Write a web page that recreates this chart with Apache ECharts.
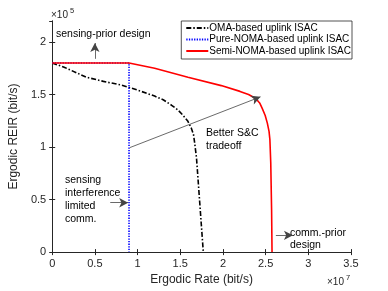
<!DOCTYPE html>
<html><head><meta charset="utf-8">
<script src="https://cdn.jsdelivr.net/npm/echarts@6/dist/echarts.min.js"></script>
<style>html,body{margin:0;padding:0;background:#fff}#c{width:388px;height:291px}</style>
</head><body><div id="c"></div>
<script>
// Values: x in 1e7 bit/s, y in 1e5 bit/s
var omaX  = [0, 0.14, 0.4, 0.6, 0.814, 1.008, 1.2, 1.3, 1.395, 1.47, 1.53, 1.59, 1.63, 1.655, 1.666, 1.69, 1.73, 1.77];
var omaY  = [1.8, 1.76, 1.665, 1.625, 1.59, 1.54, 1.485, 1.45, 1.40, 1.355, 1.305, 1.245, 1.18, 1.12, 1.056, 0.9, 0.45, 0];
var pureX = [0, 0.9, 0.9];
var pureY = [1.8, 1.8, 0];
var semiX = [0, 0.9, 1.2, 1.59, 1.98, 2.2, 2.3, 2.384, 2.43, 2.46, 2.495, 2.52, 2.54, 2.55, 2.56, 2.57, 2.575];
var semiY = [1.8, 1.8, 1.75, 1.665, 1.585, 1.53, 1.50, 1.462, 1.42, 1.368, 1.30, 1.228, 1.15, 1.071, 0.853, 0.4, 0];
var xTicks = [0, 0.5, 1, 1.5, 2, 2.5, 3, 3.5];
var yTicks = [0, 0.5, 1, 1.5, 2];
var names = ['OMA-based uplink ISAC', 'Pure-NOMA-based uplink ISAC', 'Semi-NOMA-based uplink ISAC'];

function zip(a, b) { return a.map(function (v, i) { return [v, b[i]]; }); }
var F = 'Liberation Sans, Arial, Helvetica, sans-serif';
var chart = echarts.init(document.getElementById('c'), null, {renderer: 'canvas'});
var lblFmt = function (v) { return String(+v.toFixed(2)); };
var baseAxis = {
  axisLine: {show: true, lineStyle: {color: '#262626', width: 1}},
  axisTick: {show: true, inside: true, length: 3, lineStyle: {color: '#262626'}},
  splitLine: {show: false},
  axisLabel: {color: '#262626', fontSize: 11, fontFamily: F, formatter: lblFmt, showMaxLabel: true}
};
var option = {
  animation: false,
  backgroundColor: '#fff',
  grid: {left: 50, right: 37, top: 21, bottom: 35, containLabel: false},
  xAxis: [
    Object.assign({}, baseAxis, {type: 'value', min: xTicks[0], max: xTicks[xTicks.length - 1], interval: 0.5,
      name: 'Ergodic Rate (bit/s)', nameLocation: 'middle', nameGap: 21,
      nameTextStyle: {color: '#262626', fontSize: 12, fontFamily: F},
      axisLabel: Object.assign({}, baseAxis.axisLabel, {margin: 6})}),
    Object.assign({}, baseAxis, {type: 'value', position: 'top', min: 0, max: 3.5, interval: 0.5,
      axisLabel: {show: false}})
  ],
  yAxis: [
    Object.assign({}, baseAxis, {type: 'value', min: yTicks[0], max: 2.2, interval: 0.5,
      name: 'Ergodic REIR (bit/s)', nameLocation: 'middle', nameGap: 22,
      nameTextStyle: {color: '#262626', fontSize: 12, fontFamily: F},
      axisLabel: Object.assign({}, baseAxis.axisLabel, {margin: 6, showMaxLabel: false})}),
    Object.assign({}, baseAxis, {type: 'value', position: 'right', min: 0, max: 2.2, interval: 0.5,
      axisLabel: {show: false}})
  ],
  legend: {
    right: 36, top: 21, orient: 'vertical',
    backgroundColor: '#fff', borderColor: '#262626', borderWidth: 0.8, borderRadius: 0,
    padding: [2, 1, 3, 4], itemGap: 1.5, itemWidth: 22, itemHeight: 10,
    itemStyle: {opacity: 0},
    textStyle: {fontSize: 10, fontFamily: F, color: '#000', padding: [0, 0, 0, -4]},
    data: names
  },
  series: [
    {name: names[0], type: 'line', data: zip(omaX, omaY), showSymbol: false, symbol: 'none',
      lineStyle: {color: '#000', width: 1.6, type: [5, 2, 1.5, 2]}, itemStyle: {color: '#000'}, z: 2},
    {name: names[1], type: 'line', data: zip(pureX, pureY), showSymbol: false, symbol: 'none',
      lineStyle: {color: '#0000ff', width: 1.6, type: [1.3, 1.3]}, itemStyle: {color: '#0000ff'}, z: 3},
    {name: names[2], type: 'line', data: zip(semiX, semiY), showSymbol: false, symbol: 'none',
      lineStyle: {color: '#ff0000', width: 1.6}, itemStyle: {color: '#ff0000'}, z: 4},
    {type: 'line', data: [], silent: true, z: 5,
      markLine: {silent: true, symbol: ['none', 'arrow'], symbolSize: [7, 9], label: {show: false},
        lineStyle: {color: '#444', width: 0.8, type: 'solid'},
        data: [
          [{coord: [0.91, 0.995]}, {coord: [2.44, 1.478]}],
          [{coord: [0.5, 1.84]}, {coord: [0.5, 1.99]}],
          [{coord: [0.68, 0.47]}, {coord: [0.89, 0.47]}],
          [{coord: [2.62, 0.16]}, {coord: [2.82, 0.16]}]
        ]}}
  ],
  graphic: [
    {type: 'text', left: 51, top: 10, style: {text: '×10', fontSize: 10, fontFamily: F, fill: '#262626'}},
    {type: 'text', left: 70, top: 7, style: {text: '5', fontSize: 7.5, fontFamily: F, fill: '#262626'}},
    {type: 'text', left: 327, top: 277, style: {text: '×10', fontSize: 10, fontFamily: F, fill: '#262626'}},
    {type: 'text', left: 346, top: 274, style: {text: '7', fontSize: 7.5, fontFamily: F, fill: '#262626'}},
    {type: 'text', left: 56, top: 29, style: {text: 'sensing-prior design', fontSize: 10.5, fontFamily: F, fill: '#000'}},
    {type: 'text', left: 206, top: 127, style: {text: 'Better S&C\ntradeoff', fontSize: 10.5, lineHeight: 12.5, fontFamily: F, fill: '#000'}},
    {type: 'text', left: 65, top: 173, style: {text: 'sensing\ninterference\nlimited\ncomm.', fontSize: 10.5, lineHeight: 13.3, fontFamily: F, fill: '#000'}},
    {type: 'text', left: 290, top: 227, style: {text: 'comm.-prior\ndesign', fontSize: 10.5, lineHeight: 12, fontFamily: F, fill: '#000'}}
  ]
};
chart.setOption(option);
</script></body></html>
